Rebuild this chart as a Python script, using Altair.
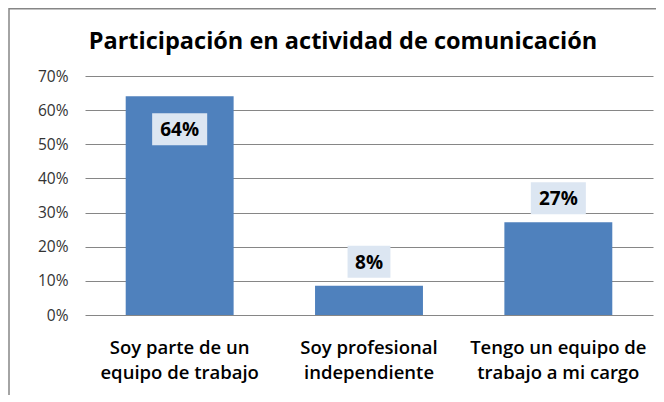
import altair as alt
import pandas as pd

categories = ["Soy parte de un\nequipo de trabajo", "Soy profesional\nindependiente", "Tengo un equipo de\ntrabajo a mi cargo"]
values = [0.641, 0.086, 0.272]
labels = ["64%", "8%", "27%"]
title = "Participación en actividad de comunicación"
y_ticks = [0, 0.1, 0.2, 0.3, 0.4, 0.5, 0.6, 0.7]

df = pd.DataFrame({"cat": categories, "v": values, "label": labels})

FONT = "Open Sans"
x = alt.X("cat:N", sort=categories, title=None,
          scale=alt.Scale(paddingInner=0.43, paddingOuter=0.215),
          axis=alt.Axis(labelAngle=0, domain=False, ticks=False, labelPadding=23,
                        labelFontSize=18.5, labelFontWeight=600, labelColor="#000000",
                        labelFont=FONT, labelLineHeight=25,
                        labelExpr="split(datum.label, '\\n')"))
y = alt.Y("v:Q", title=None,
          scale=alt.Scale(domain=[0, 0.7], nice=False),
          axis=alt.Axis(values=y_ticks, format=".0%", domain=False, ticks=False,
                        labelPadding=17, labelFontSize=15.5, labelColor="#333333",
                        labelFont=FONT, gridColor="#868686", gridWidth=1, gridOpacity=1,
                        labelOverlap=False))

base = alt.Chart(df)
bars = base.mark_bar(color="#4F81BD").encode(x=x, y=y)

wide = "M-1.72,-1H1.72V1H-1.72Z"
narrow = "M-1.34,-1H1.34V1H-1.34Z"

def label_layer(cond, off):
    filt = base.transform_filter(cond)
    box = filt.mark_point(filled=True, size=1024, color="#DCE6F2", opacity=1, yOffset=off).encode(
        x=x, y=y,
        shape=alt.condition("length(datum.label) > 2", alt.value(wide), alt.value(narrow)))
    txt = filt.mark_text(font=FONT, fontSize=19, fontWeight="bold", color="#000000",
                         baseline="middle", dy=off + 1).encode(
        x=x, y=y, text="label:N")
    return box + txt

inside = label_layer("datum.v > 0.5", 33)
outside = label_layer("datum.v <= 0.5", -24)

one = alt.Data(values=[{}])
border = alt.Chart(one).mark_rule(color="#868686", strokeWidth=1.5).encode(
    x=alt.value(-76), y=alt.value(-68), y2=alt.value(400))
border_top = alt.Chart(one).mark_rule(color="#868686", strokeWidth=1.5).encode(
    x=alt.value(-76), x2=alt.value(700), y=alt.value(-67.2))
title_mark = alt.Chart(one).mark_text(text=title, font=FONT, fontSize=23.5, fontWeight="bold",
                                      color="#000000", baseline="middle", align="center").encode(
    x=alt.value(258), y=alt.value(-34))

chart = alt.layer(bars, inside, outside, border, border_top, title_mark).properties(
    width=568, height=239,
    autosize=alt.AutoSizeParams(type="none"),
    padding={"left": 77, "top": 68, "right": 3, "bottom": 80},
).configure_view(stroke=None)

chart.save("out.html", embed_options={"renderer": "svg", "actions": False})
